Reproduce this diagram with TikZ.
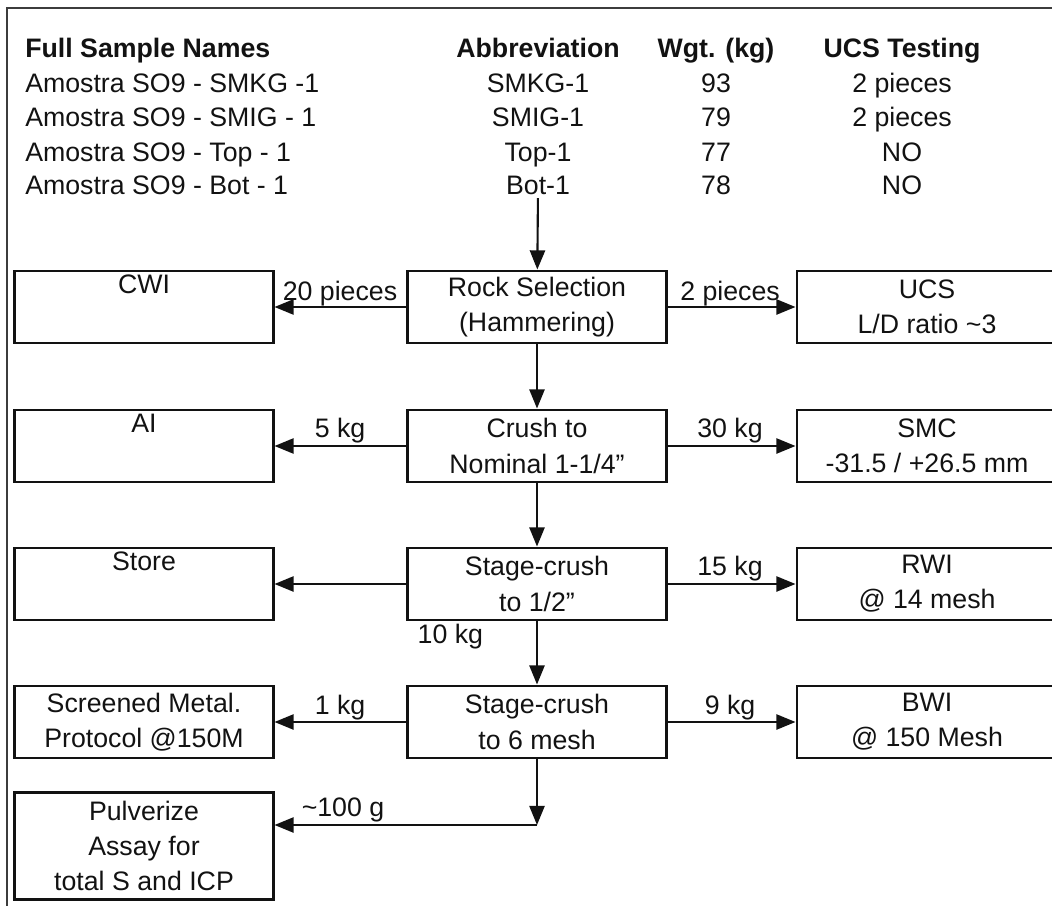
\documentclass[tikz,border=0pt]{standalone}
\usepackage{fontspec}
\setmainfont{Liberation Sans}
\usetikzlibrary{
  arrows.meta,
  positioning
}
\definecolor{InkBlack}{RGB}{18, 18, 18}
\definecolor{FrameGray}{RGB}{60, 60, 60}
\tikzset{
    stagebox/.style={rectangle, draw=InkBlack, line width=2.1pt, minimum width=6.45cm, minimum height=1.8cm, align=center, inner sep=1pt, text=InkBlack, font=\fontsize{19}{25}\selectfont},
    flow/.style={draw=InkBlack, line width=1.5pt, -{Triangle[length=4.8mm,width=3.8mm]}},
    tag/.style={inner sep=1pt, text height=0.75em, text depth=0.22em, text=InkBlack, font=\fontsize{19}{23}\selectfont},
    cell/.style={inner sep=0pt, text height=0.75em, text depth=0.22em, text=InkBlack, font=\fontsize{19}{23}\selectfont}
}

\begin{document}
\begin{tikzpicture}[x=0.025cm, y=-0.025cm]
    \clip (0,0) rectangle (1052,906);
    \draw[FrameGray, line width=0.9pt] (7,8) rectangle (1080,940);

    \node[cell, anchor=west, font=\fontsize{19}{23}\selectfont\bfseries] (hname) at (25,54) {Full Sample Names};
    \node[cell, font=\fontsize{19}{23}\selectfont\bfseries] (habbr) at (538,54) {Abbreviation};
    \node[cell, font=\fontsize{19}{23}\selectfont\bfseries] (hwgt) at (716,54) {Wgt. (kg)};
    \node[cell, font=\fontsize{19}{23}\selectfont\bfseries] (hucs) at (902,54) {UCS Testing};

    \node[cell, anchor=west] (name1) at (25,89) {Amostra SO9 - SMKG -1};
    \node[cell, anchor=west] (name2) at (25,123) {Amostra SO9 - SMIG - 1};
    \node[cell, anchor=west] (name3) at (25,158) {Amostra SO9 - Top - 1};
    \node[cell, anchor=west] (name4) at (25,191) {Amostra SO9 - Bot - 1};
    \node[cell] (abbr1) at (538,89) {SMKG-1};
    \node[cell] (abbr2) at (538,123) {SMIG-1};
    \node[cell] (abbr3) at (538,158) {Top-1};
    \node[cell] (abbr4) at (538,191) {Bot-1};
    \node[cell] (wgt1) at (716,89) {93};
    \node[cell] (wgt2) at (716,123) {79};
    \node[cell] (wgt3) at (716,158) {77};
    \node[cell] (wgt4) at (716,191) {78};
    \node[cell] (ucs1) at (902,89) {2 pieces};
    \node[cell] (ucs2) at (902,123) {2 pieces};
    \node[cell] (ucs3) at (902,158) {NO};
    \node[cell] (ucs4) at (902,191) {NO};

    \node[stagebox] (rock) at (537,307) {Rock Selection\\(Hammering)};
    \node[stagebox] (cwi) at (144,307) {CWI\\\strut};
    \node[stagebox, minimum width=6.5cm] (ucsbox) at (927,307) {UCS\\L/D ratio \textasciitilde3};

    \node[stagebox] (crush) at (537,446) {Crush to\\Nominal 1-1/4"};
    \node[stagebox] (ai) at (144,446) {AI\\\strut};
    \node[stagebox, minimum width=6.5cm] (smc) at (927,446) {SMC\\-31.5 / +26.5 mm};

    \node[stagebox] (half) at (537,584) {Stage-crush\\to 1/2"};
    \node[stagebox] (store) at (144,584) {Store\\\strut};
    \node[stagebox, minimum width=6.5cm] (rwi) at (927,584) {RWI\\@ 14 mesh};

    \node[stagebox] (mesh) at (537,722) {Stage-crush\\to 6 mesh};
    \node[stagebox] (screen) at (144,722) {Screened Metal.\\Protocol @150M};
    \node[stagebox, minimum width=6.5cm] (bwi) at (927,722) {BWI\\@ 150 Mesh};

    \node[stagebox, minimum height=2.68cm] (pulv) at (144,846) {Pulverize\\Assay for\\total S and ICP};
    \coordinate (split) at (537,825);

    \draw[flow] (abbr4) -- (rock);
    \draw[flow] (rock) -- (cwi);
    \draw[flow] (rock) -- (ucsbox);
    \draw[flow] (rock) -- (crush);
    \draw[flow] (crush) -- (ai);
    \draw[flow] (crush) -- (smc);
    \draw[flow] (crush) -- (half);
    \draw[flow] (half) -- (store);
    \draw[flow] (half) -- (rwi);
    \draw[flow] (half) -- (mesh);
    \draw[flow] (mesh) -- (screen);
    \draw[flow] (mesh) -- (bwi);
    \draw[flow] (mesh) -- (split);
    \draw[flow] (split) -- (split -| pulv.east);

    \node[tag] (l20) at (340,297) {20 pieces};
    \node[tag] (l2) at (730,297) {2 pieces};
    \node[tag] (l5) at (340,434) {5 kg};
    \node[tag] (l30) at (730,434) {30 kg};
    \node[tag] (l15) at (730,572) {15 kg};
    \node[tag, anchor=west] (l10) at (416,640) {10 kg};
    \node[tag] (l1) at (340,711) {1 kg};
    \node[tag] (l9) at (730,711) {9 kg};
    \node[tag] (l100) at (343,813) {\textasciitilde100 g};
\end{tikzpicture}
\end{document}
